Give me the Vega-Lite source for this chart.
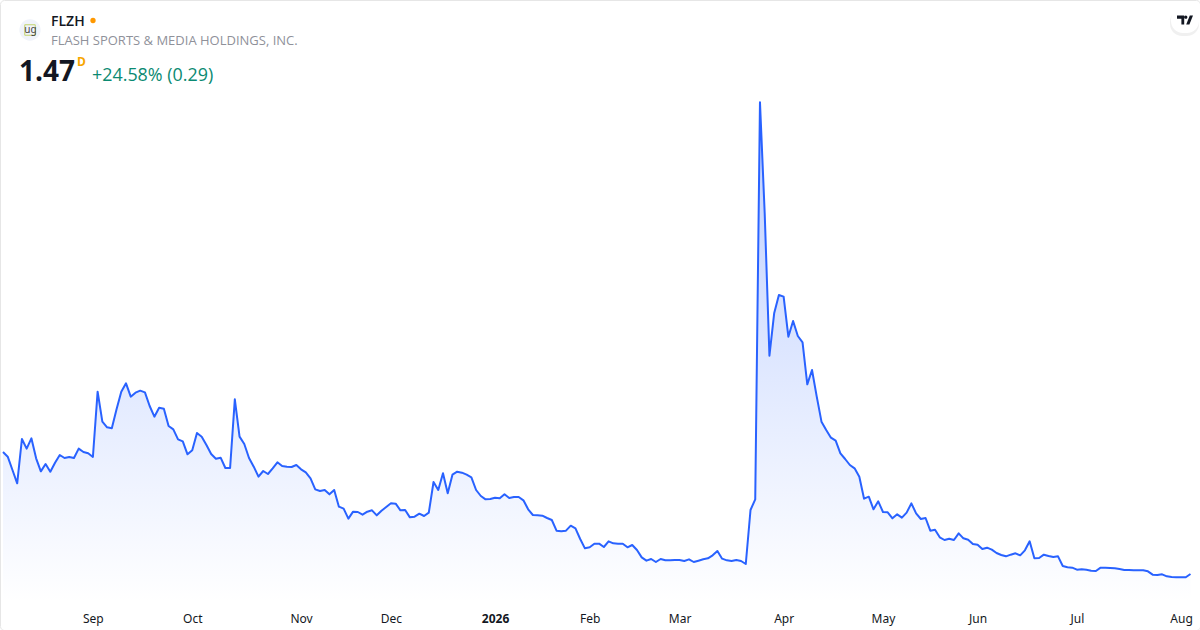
{
  "$schema": "https://vega.github.io/schema/vega-lite/v6.json",
  "description": "FLZH daily close, one year",
  "width": 1200,
  "height": 630,
  "padding": 0,
  "autosize": "none",
  "background": "#ffffff",
  "config": {
    "view": {"stroke": "#e6e6e6", "cornerRadius": 4},
    "font": "Noto Sans"
  },
  "datasets": {
    "prices": [
      {"date":"2025-08-05","close":12.45},{"date":"2025-08-06","close":12.03},{"date":"2025-08-07","close":10.83},{"date":"2025-08-08","close":9.63},
      {"date":"2025-08-11","close":13.62},{"date":"2025-08-12","close":12.75},{"date":"2025-08-13","close":13.68},{"date":"2025-08-14","close":11.88},{"date":"2025-08-15","close":10.71},
      {"date":"2025-08-18","close":11.37},{"date":"2025-08-19","close":10.68},{"date":"2025-08-20","close":11.49},{"date":"2025-08-21","close":12.18},{"date":"2025-08-22","close":11.91},
      {"date":"2025-08-25","close":12.00},{"date":"2025-08-26","close":11.91},{"date":"2025-08-27","close":12.75},{"date":"2025-08-28","close":12.45},{"date":"2025-08-29","close":12.33},
      {"date":"2025-09-02","close":12.00},{"date":"2025-09-03","close":17.88},{"date":"2025-09-04","close":15.18},{"date":"2025-09-05","close":14.67},
      {"date":"2025-09-08","close":14.58},{"date":"2025-09-09","close":16.29},{"date":"2025-09-10","close":17.88},{"date":"2025-09-11","close":18.63},{"date":"2025-09-12","close":17.43},
      {"date":"2025-09-15","close":17.79},{"date":"2025-09-16","close":17.97},{"date":"2025-09-17","close":17.82},{"date":"2025-09-18","close":16.59},{"date":"2025-09-19","close":15.63},
      {"date":"2025-09-22","close":16.44},{"date":"2025-09-23","close":16.35},{"date":"2025-09-24","close":14.79},{"date":"2025-09-25","close":14.49},{"date":"2025-09-26","close":13.59},
      {"date":"2025-09-29","close":13.41},{"date":"2025-09-30","close":12.24},
      {"date":"2025-10-01","close":12.60},{"date":"2025-10-02","close":14.16},{"date":"2025-10-03","close":13.83},
      {"date":"2025-10-06","close":13.08},{"date":"2025-10-07","close":12.27},{"date":"2025-10-08","close":11.85},{"date":"2025-10-09","close":11.94},{"date":"2025-10-10","close":11.01},
      {"date":"2025-10-13","close":11.01},{"date":"2025-10-14","close":17.19},{"date":"2025-10-15","close":13.83},{"date":"2025-10-16","close":13.17},{"date":"2025-10-17","close":11.91},
      {"date":"2025-10-20","close":11.13},{"date":"2025-10-21","close":10.23},{"date":"2025-10-22","close":10.74},{"date":"2025-10-23","close":10.47},{"date":"2025-10-24","close":10.98},
      {"date":"2025-10-27","close":11.52},{"date":"2025-10-28","close":11.19},{"date":"2025-10-29","close":11.13},{"date":"2025-10-30","close":11.10},{"date":"2025-10-31","close":11.28},
      {"date":"2025-11-03","close":10.89},{"date":"2025-11-04","close":10.62},{"date":"2025-11-05","close":10.08},{"date":"2025-11-06","close":9.09},{"date":"2025-11-07","close":8.94},
      {"date":"2025-11-10","close":9.03},{"date":"2025-11-11","close":8.64},{"date":"2025-11-12","close":9.03},{"date":"2025-11-13","close":7.53},{"date":"2025-11-14","close":7.35},
      {"date":"2025-11-17","close":6.45},{"date":"2025-11-18","close":7.08},{"date":"2025-11-19","close":7.05},{"date":"2025-11-20","close":6.81},{"date":"2025-11-21","close":7.08},
      {"date":"2025-11-24","close":7.20},{"date":"2025-11-25","close":6.75},{"date":"2025-11-26","close":7.17},{"date":"2025-11-28","close":7.50},
      {"date":"2025-12-01","close":7.83},{"date":"2025-12-02","close":7.80},{"date":"2025-12-03","close":7.20},{"date":"2025-12-04","close":7.23},{"date":"2025-12-05","close":6.57},
      {"date":"2025-12-08","close":6.63},{"date":"2025-12-09","close":6.90},{"date":"2025-12-10","close":6.69},{"date":"2025-12-11","close":6.99},{"date":"2025-12-12","close":9.75},
      {"date":"2025-12-15","close":9.03},{"date":"2025-12-16","close":10.53},{"date":"2025-12-17","close":8.73},{"date":"2025-12-18","close":10.41},{"date":"2025-12-19","close":10.68},
      {"date":"2025-12-22","close":10.59},{"date":"2025-12-23","close":10.41},{"date":"2025-12-24","close":10.17},{"date":"2025-12-26","close":9.03},
      {"date":"2025-12-29","close":8.49},{"date":"2025-12-30","close":8.19},{"date":"2025-12-31","close":8.22},
      {"date":"2026-01-02","close":8.34},
      {"date":"2026-01-05","close":8.28},{"date":"2026-01-06","close":8.64},{"date":"2026-01-07","close":8.31},{"date":"2026-01-08","close":8.40},{"date":"2026-01-09","close":8.40},
      {"date":"2026-01-12","close":8.10},{"date":"2026-01-13","close":7.29},{"date":"2026-01-14","close":6.78},{"date":"2026-01-15","close":6.75},{"date":"2026-01-16","close":6.72},
      {"date":"2026-01-20","close":6.51},{"date":"2026-01-21","close":6.33},{"date":"2026-01-22","close":5.37},{"date":"2026-01-23","close":5.31},
      {"date":"2026-01-26","close":5.37},{"date":"2026-01-27","close":5.82},{"date":"2026-01-28","close":5.58},{"date":"2026-01-29","close":4.62},{"date":"2026-01-30","close":3.78},
      {"date":"2026-02-02","close":3.87},{"date":"2026-02-03","close":4.20},{"date":"2026-02-04","close":4.20},{"date":"2026-02-05","close":3.90},{"date":"2026-02-06","close":4.41},
      {"date":"2026-02-09","close":4.23},{"date":"2026-02-10","close":4.20},{"date":"2026-02-11","close":4.20},{"date":"2026-02-12","close":3.87},{"date":"2026-02-13","close":4.08},
      {"date":"2026-02-17","close":3.63},{"date":"2026-02-18","close":2.97},{"date":"2026-02-19","close":2.67},{"date":"2026-02-20","close":2.82},
      {"date":"2026-02-23","close":2.55},{"date":"2026-02-24","close":2.82},{"date":"2026-02-25","close":2.70},{"date":"2026-02-26","close":2.70},{"date":"2026-02-27","close":2.73},
      {"date":"2026-03-02","close":2.73},{"date":"2026-03-03","close":2.64},{"date":"2026-03-04","close":2.79},{"date":"2026-03-05","close":2.55},{"date":"2026-03-06","close":2.67},
      {"date":"2026-03-09","close":2.79},{"date":"2026-03-10","close":2.88},{"date":"2026-03-11","close":3.15},{"date":"2026-03-12","close":3.54},{"date":"2026-03-13","close":2.85},
      {"date":"2026-03-16","close":2.70},{"date":"2026-03-17","close":2.64},{"date":"2026-03-18","close":2.73},{"date":"2026-03-19","close":2.64},{"date":"2026-03-20","close":2.37},
      {"date":"2026-03-23","close":7.23},{"date":"2026-03-24","close":8.19},{"date":"2026-03-25","close":43.92},{"date":"2026-03-26","close":33.93},{"date":"2026-03-27","close":21.12},
      {"date":"2026-03-30","close":24.93},{"date":"2026-03-31","close":26.58},
      {"date":"2026-04-01","close":26.43},{"date":"2026-04-02","close":22.83},
      {"date":"2026-04-06","close":24.24},{"date":"2026-04-07","close":22.89},{"date":"2026-04-08","close":22.32},{"date":"2026-04-09","close":18.54},{"date":"2026-04-10","close":19.83},
      {"date":"2026-04-13","close":17.43},{"date":"2026-04-14","close":15.18},{"date":"2026-04-15","close":14.43},{"date":"2026-04-16","close":13.74},{"date":"2026-04-17","close":13.47},
      {"date":"2026-04-20","close":12.33},{"date":"2026-04-21","close":11.82},{"date":"2026-04-22","close":11.28},{"date":"2026-04-23","close":10.98},{"date":"2026-04-24","close":10.23},
      {"date":"2026-04-27","close":8.25},{"date":"2026-04-28","close":8.43},{"date":"2026-04-29","close":7.29},{"date":"2026-04-30","close":8.01},
      {"date":"2026-05-01","close":7.05},
      {"date":"2026-05-04","close":7.02},{"date":"2026-05-05","close":6.48},{"date":"2026-05-06","close":6.84},{"date":"2026-05-07","close":6.54},{"date":"2026-05-08","close":6.99},
      {"date":"2026-05-11","close":7.83},{"date":"2026-05-12","close":6.93},{"date":"2026-05-13","close":6.42},{"date":"2026-05-14","close":6.51},{"date":"2026-05-15","close":5.37},
      {"date":"2026-05-18","close":5.46},{"date":"2026-05-19","close":4.77},{"date":"2026-05-20","close":4.53},{"date":"2026-05-21","close":4.65},{"date":"2026-05-22","close":4.53},
      {"date":"2026-05-26","close":5.13},{"date":"2026-05-27","close":4.68},{"date":"2026-05-28","close":4.56},{"date":"2026-05-29","close":4.17},
      {"date":"2026-06-01","close":4.11},{"date":"2026-06-02","close":3.72},{"date":"2026-06-03","close":3.84},{"date":"2026-06-04","close":3.66},{"date":"2026-06-05","close":3.36},
      {"date":"2026-06-08","close":3.18},{"date":"2026-06-09","close":3.06},{"date":"2026-06-10","close":3.21},{"date":"2026-06-11","close":3.33},{"date":"2026-06-12","close":3.15},
      {"date":"2026-06-15","close":3.60},{"date":"2026-06-16","close":4.41},{"date":"2026-06-17","close":2.88},{"date":"2026-06-18","close":2.91},
      {"date":"2026-06-22","close":3.21},{"date":"2026-06-23","close":3.09},{"date":"2026-06-24","close":3.00},{"date":"2026-06-25","close":3.06},{"date":"2026-06-26","close":2.19},
      {"date":"2026-06-29","close":2.07},{"date":"2026-06-30","close":2.04},
      {"date":"2026-07-01","close":1.86},{"date":"2026-07-02","close":1.89},
      {"date":"2026-07-06","close":1.86},{"date":"2026-07-07","close":1.77},{"date":"2026-07-08","close":1.74},{"date":"2026-07-09","close":2.04},{"date":"2026-07-10","close":2.04},
      {"date":"2026-07-13","close":2.01},{"date":"2026-07-14","close":1.98},{"date":"2026-07-15","close":1.92},{"date":"2026-07-16","close":1.83},{"date":"2026-07-17","close":1.83},
      {"date":"2026-07-20","close":1.80},{"date":"2026-07-21","close":1.80},{"date":"2026-07-22","close":1.80},{"date":"2026-07-23","close":1.71},{"date":"2026-07-24","close":1.41},
      {"date":"2026-07-27","close":1.38},{"date":"2026-07-28","close":1.44},{"date":"2026-07-29","close":1.26},{"date":"2026-07-30","close":1.20},{"date":"2026-07-31","close":1.17},
      {"date":"2026-08-03","close":1.17},{"date":"2026-08-04","close":1.18},{"date":"2026-08-05","close":1.47}
    ]
  },
  "layer": [
    {
      "data": {"name": "prices"},
      "mark": {
        "type": "area",
        "line": false,
        "color": {
          "gradient": "linear",
          "x1": 0, "x2": 0, "y1": 0, "y2": 1,
          "stops": [
            {"offset": 0, "color": "rgba(41,98,255,0.315)"},
            {"offset": 1, "color": "rgba(41,98,255,0)"}
          ]
        }
      },
      "encoding": {
        "x": {
          "field": "date",
          "type": "ordinal",
          "title": null,
          "scale": {"type": "point", "padding": 0, "range": [3, 1190.5]},
          "axis": {
            "values": ["2025-09-02","2025-10-01","2025-11-03","2025-12-01","2026-01-02","2026-02-02","2026-03-02","2026-04-01","2026-05-01","2026-06-01","2026-07-01","2026-08-03"],
            "labelExpr": "datum.value == '2026-01-02' ? '2026' : timeFormat(toDate(datum.value + 'T12:00:00'), '%b')",
            "labelAngle": 0,
            "labelFont": "Noto Sans",
            "labelFontSize": 12,
            "labelColor": "#131722",
            "labelFontWeight": {"condition": {"test": "datum.value == '2026-01-02'", "value": "bold"}, "value": "normal"},
            "labelOverlap": false,
            "labelPadding": 10,
            "offset": -27,
            "domain": false,
            "ticks": false,
            "grid": false
          }
        },
        "y": {
          "field": "close",
          "type": "quantitative",
          "title": null,
          "scale": {"domain": [-1.14, 53.13], "range": [603, 0], "nice": false, "zero": false},
          "axis": null
        },
        "y2": {"datum": -1.14}
      }
    },
    {
      "data": {"name": "prices"},
      "mark": {"type": "line", "color": "#2962ff", "strokeWidth": 2, "strokeJoin": "round"},
      "encoding": {
        "x": {"field": "date", "type": "ordinal"},
        "y": {"field": "close", "type": "quantitative"}
      }
    },
    {
      "data": {"values": [{"label": "badge"}]},
      "mark": {"type": "rect", "color": "#000000", "opacity": 0.06, "cornerRadius": 12},
      "encoding": {"x": {"value": 1170}, "x2": {"value": 1199}, "y": {"value": 10}, "y2": {"value": 36}}
    },
    {
      "data": {"values": [{"label": "badge"}]},
      "mark": {"type": "rect", "color": "#ffffff", "cornerRadius": 12},
      "encoding": {"x": {"value": 1171}, "x2": {"value": 1199}, "y": {"value": 8}, "y2": {"value": 33}}
    },
    {
      "data": {"values": [{"label": "tv"}]},
      "mark": {"type": "point", "filled": true, "opacity": 1, "color": "#131722", "size": 256,
        "shape": "M-1 -0.55H-0.1V0.55H-0.45V-0.15H-1ZM0.1 -0.55A0.2 0.2 0 1 1 0.1 -0.15A0.2 0.2 0 1 1 0.1 -0.55ZM0.15 0.55L0.6 -0.55H1L0.55 0.55Z"},
      "encoding": {"x": {"value": 1185}, "y": {"value": 20}}
    },
    {
      "data": {"values": [{"label": "logo"}]},
      "mark": {"type": "point", "filled": true, "opacity": 1, "color": "#f0f3fa", "size": 452, "shape": "circle"},
      "encoding": {"x": {"value": 30}, "y": {"value": 30}}
    },
    {
      "data": {"values": [{"label": "logo"}]},
      "mark": {"type": "point", "filled": false, "opacity": 1, "color": "#c3d36e", "strokeWidth": 1, "size": 110, "shape": "square"},
      "encoding": {"x": {"value": 30}, "y": {"value": 30}}
    },
    {
      "data": {"values": [{"label": "ug"}]},
      "mark": {"type": "text", "align": "center", "font": "Noto Sans", "fontSize": 10, "color": "#444444"},
      "encoding": {"x": {"value": 30.5}, "y": {"value": 30}, "text": {"field": "label"}}
    },
    {
      "data": {"values": [{"label": "FLZH"}]},
      "mark": {"type": "text", "align": "left", "baseline": "alphabetic", "font": "Open Sans", "fontSize": 14, "fontWeight": 600, "color": "#131722"},
      "encoding": {"x": {"value": 51}, "y": {"value": 26}, "text": {"field": "label"}}
    },
    {
      "data": {"values": [{"label": "status"}]},
      "mark": {"type": "point", "filled": true, "opacity": 1, "color": "#ff9800", "size": 28, "shape": "circle"},
      "encoding": {"x": {"value": 93}, "y": {"value": 20.5}}
    },
    {
      "data": {"values": [{"label": "FLASH SPORTS & MEDIA HOLDINGS, INC."}]},
      "mark": {"type": "text", "align": "left", "baseline": "alphabetic", "font": "Open Sans", "fontSize": 13, "color": "#8f919a"},
      "encoding": {"x": {"value": 51}, "y": {"value": 45}, "text": {"field": "label"}}
    },
    {
      "data": {"values": [{"label": "1.47"}]},
      "mark": {"type": "text", "align": "left", "baseline": "alphabetic", "font": "Open Sans", "fontSize": 28, "fontWeight": "bold", "color": "#131722"},
      "encoding": {"x": {"value": 19}, "y": {"value": 81}, "text": {"field": "label"}}
    },
    {
      "data": {"values": [{"label": "D"}]},
      "mark": {"type": "text", "align": "left", "baseline": "alphabetic", "font": "Open Sans", "fontSize": 12, "fontWeight": "bold", "color": "#f7a600"},
      "encoding": {"x": {"value": 77}, "y": {"value": 66}, "text": {"field": "label"}}
    },
    {
      "data": {"values": [{"label": "+24.58% (0.29)"}]},
      "mark": {"type": "text", "align": "left", "baseline": "alphabetic", "font": "Open Sans", "fontSize": 17.9, "color": "#0b8a72"},
      "encoding": {"x": {"value": 92}, "y": {"value": 81}, "text": {"field": "label"}}
    }
  ]
}
